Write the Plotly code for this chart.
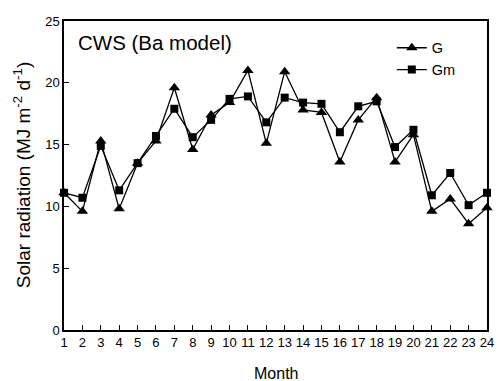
import plotly.graph_objects as go

months = list(range(1, 25))
g_values = [11.1, 9.6, 15.3, 9.8, 13.5, 15.3, 19.6, 14.6, 17.4, 18.4, 21.0, 15.1,
            20.9, 17.8, 17.6, 13.6, 17.0, 18.8, 13.6, 15.8, 9.6, 10.6, 8.6, 9.9]
gm_values = [11.1, 10.7, 14.9, 11.3, 13.5, 15.7, 17.9, 15.6, 17.0, 18.7, 18.9, 16.8,
             18.8, 18.4, 18.3, 16.0, 18.1, 18.5, 14.8, 16.2, 10.9, 12.7, 10.1, 11.1]
x_ticks = months
y_ticks = [0, 5, 10, 15, 20, 25]

FONT = "Liberation Sans, Arial, sans-serif"

fig = go.Figure()
fig.add_trace(go.Scatter(
    x=months, y=g_values, name="G", mode="lines+markers",
    line=dict(color="black", width=1.3),
    marker=dict(symbol="triangle-up", size=10, color="black"),
    cliponaxis=False,
))
fig.add_trace(go.Scatter(
    x=months, y=gm_values, name="Gm", mode="lines+markers",
    line=dict(color="black", width=1.3),
    marker=dict(symbol="square", size=8, color="black"),
    cliponaxis=False,
))

fig.update_layout(
    width=501, height=381,
    margin=dict(l=64, r=7, t=21, b=51),
    paper_bgcolor="white", plot_bgcolor="white",
    font=dict(family=FONT, size=13, color="black"),
    showlegend=True,
    legend=dict(x=0.775, y=0.965, xanchor="left", yanchor="top",
                bgcolor="rgba(0,0,0,0)", font=dict(size=14.5),
                itemwidth=30, tracegroupgap=0),
    xaxis=dict(range=[1, 24], tickmode="array", tickvals=x_ticks,
               showline=True, linecolor="black", linewidth=1.5, mirror=True,
               ticks="inside", ticklen=5, tickcolor="black", tickwidth=1,
               showgrid=False, zeroline=False, tickfont=dict(size=13)),
    yaxis=dict(range=[0, 25], tickmode="array", tickvals=y_ticks,
               showline=True, linecolor="black", linewidth=1.5, mirror=True,
               ticks="inside", ticklen=5, tickcolor="black", tickwidth=1,
               showgrid=False, zeroline=False, tickfont=dict(size=13)),
    annotations=[
        dict(text="CWS (Ba model)", xref="paper", yref="paper", x=0.028, y=0.93,
             xanchor="left", yanchor="middle", showarrow=False, font=dict(size=20.5)),
        dict(text="Month", xref="paper", yref="paper", x=0.5, y=-0.106,
             xanchor="center", yanchor="top", showarrow=False, font=dict(size=16)),
        dict(text="Solar radiation (MJ m<sup>-2</sup> d<sup>-1</sup>)",
             xref="paper", yref="paper", x=-0.1, y=0.5, textangle=-90,
             xanchor="center", yanchor="middle", showarrow=False, font=dict(size=19)),
    ],
)

fig.write_html("out.html")
